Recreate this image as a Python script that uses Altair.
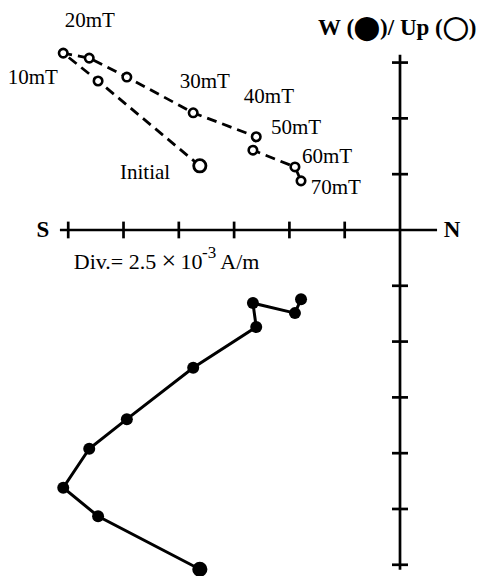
import altair as alt
import pandas as pd

# Demagnetisation steps (in units of one division = 2.5e-3 A/m)
steps = ["Initial", "5mT", "10mT", "15mT", "20mT", "30mT", "40mT", "50mT", "60mT", "70mT"]
north = [-3.62, -5.46, -6.09, -5.62, -4.94, -3.74, -2.60, -2.66, -1.90, -1.79]
up = [1.15, 2.67, 3.17, 3.08, 2.74, 2.10, 1.67, 1.43, 1.13, 0.88]
west = [-6.08, -5.13, -4.62, -3.92, -3.39, -2.47, -1.74, -1.31, -1.49, -1.24]

# Label texts and their anchor positions (in divisions)
label_text = ["20mT", "10mT", "30mT", "40mT", "50mT", "60mT", "70mT", "Initial"]
label_x = [-5.61, -6.64, -3.53, -2.37, -1.88, -1.32, -1.16, -4.61]
label_y = [3.75, 2.72, 2.65, 2.38, 1.83, 1.31, 0.75, 1.02]

# Scale note pieces
div_text = ["Div.= 2.5", "10", "A/m"]
div_x = [-5.90, -3.97, -3.25]
div_y = [-0.70, -0.70, -0.70]
times_text = ["\u00d7"]
times_x = [-4.18]
times_y = [-0.70]
sup_text = ["-3"]
sup_x = [-3.58]
sup_y = [-0.50]

# Axis ticks (divisions)
h_ticks = [-6, -5, -4, -3, -2, -1]
v_ticks = [3, 2, 1, -1, -2, -3, -4, -5, -6]

XDOM = [-7.089, 1.519]
YDOM = [-6.201, 3.978]

df = pd.DataFrame({"step": steps, "N": north, "Up": up, "W": west, "order": list(range(len(steps)))})
lab = pd.DataFrame({"t": label_text, "x": label_x, "y": label_y})
ht = pd.DataFrame({"x": h_ticks, "y1": [-0.15] * len(h_ticks), "y2": [0.15] * len(h_ticks)})
vt = pd.DataFrame({"y": v_ticks, "x1": [-0.145] * len(v_ticks), "x2": [0.145] * len(v_ticks)})
axes_h = pd.DataFrame({"x1": [-6.15], "x2": [0.67], "y": [0.0]})
axes_v = pd.DataFrame({"x": [0.0], "y1": [3.14], "y2": [-6.09]})
misc = pd.DataFrame({"t": ["S", "N"], "x": [-6.46, 0.94], "y": [0.0, 0.0]})
div_df = pd.DataFrame({"t": div_text, "x": div_x, "y": div_y})
times_df = pd.DataFrame({"t": times_text, "x": times_x, "y": times_y})
sup_df = pd.DataFrame({"t": sup_text, "x": sup_x, "y": sup_y})
title_df = pd.DataFrame({"t": ["W (\u2b24)/ Up (\u25ef)"], "x": [-0.05], "y": [3.62]})

xs = alt.Scale(domain=XDOM, nice=False, zero=False)
ys = alt.Scale(domain=YDOM, nice=False, zero=False)
FONT = "Liberation Serif"
LW = 2.7

def X(f):
    return alt.X(f, type="quantitative", scale=xs, axis=None)

def Y(f):
    return alt.Y(f, type="quantitative", scale=ys, axis=None)

h_axis = alt.Chart(axes_h).mark_rule(color="black", strokeWidth=LW).encode(
    x=X("x1"), x2="x2", y=Y("y"))
v_axis = alt.Chart(axes_v).mark_rule(color="black", strokeWidth=LW).encode(
    x=X("x"), y=Y("y1"), y2="y2")
h_tick = alt.Chart(ht).mark_rule(color="black", strokeWidth=LW).encode(
    x=X("x"), y=Y("y1"), y2="y2")
v_tick = alt.Chart(vt).mark_rule(color="black", strokeWidth=LW).encode(
    x=X("x1"), x2="x2", y=Y("y"))

up_line = alt.Chart(df).mark_line(color="black", strokeWidth=2.8, strokeDash=[10, 6]).encode(
    x=X("N"), y=Y("Up"), order="order")
up_pts = alt.Chart(df).transform_filter(alt.datum.step != "Initial").mark_point(
    shape="circle", filled=True, fill="white", stroke="black", strokeWidth=2.6, size=72, opacity=1).encode(
    x=X("N"), y=Y("Up"))
up_init = alt.Chart(df).transform_filter(alt.datum.step == "Initial").mark_point(
    shape="circle", filled=True, fill="white", stroke="black", strokeWidth=2.8, size=150, opacity=1).encode(
    x=X("N"), y=Y("Up"))

w_line = alt.Chart(df).mark_line(color="black", strokeWidth=3).encode(
    x=X("N"), y=Y("W"), order="order")
w_pts = alt.Chart(df).transform_filter(alt.datum.step != "Initial").mark_point(
    shape="circle", filled=True, color="black", size=144, opacity=1).encode(
    x=X("N"), y=Y("W"))
w_init = alt.Chart(df).transform_filter(alt.datum.step == "Initial").mark_point(
    shape="circle", filled=True, color="black", size=230, opacity=1).encode(
    x=X("N"), y=Y("W"))

labels = alt.Chart(lab).mark_text(font=FONT, fontSize=21, align="center", baseline="middle", color="black").encode(
    x=X("x"), y=Y("y"), text="t")
sn = alt.Chart(misc).mark_text(font=FONT, fontSize=23, fontWeight="bold", align="center", baseline="middle", color="black").encode(
    x=X("x"), y=Y("y"), text="t")
divtxt = alt.Chart(div_df).mark_text(font=FONT, fontSize=22, align="left", baseline="alphabetic", color="black").encode(
    x=X("x"), y=Y("y"), text="t")
timestxt = alt.Chart(times_df).mark_text(font=FONT, fontSize=26, align="center", baseline="alphabetic", color="black").encode(
    x=X("x"), y=Y("y"), text="t")
suptxt = alt.Chart(sup_df).mark_text(font=FONT, fontSize=17, align="left", baseline="alphabetic", color="black").encode(
    x=X("x"), y=Y("y"), text="t")
title = alt.Chart(title_df).mark_text(font=FONT, fontSize=23, fontWeight="bold", align="center", baseline="middle", color="black").encode(
    x=X("x"), y=Y("y"), text="t")

chart = alt.layer(
    h_axis, v_axis, h_tick, v_tick,
    up_line, w_line, up_pts, up_init, w_pts, w_init,
    labels, sn, divtxt, timestxt, suptxt, title,
).properties(
    width=476, height=568, padding=0, autosize=alt.AutoSizeParams(type="none"),
    background="white",
).configure_view(stroke=None)

chart.save("out.html", embed_options={"renderer": "svg", "actions": False})
